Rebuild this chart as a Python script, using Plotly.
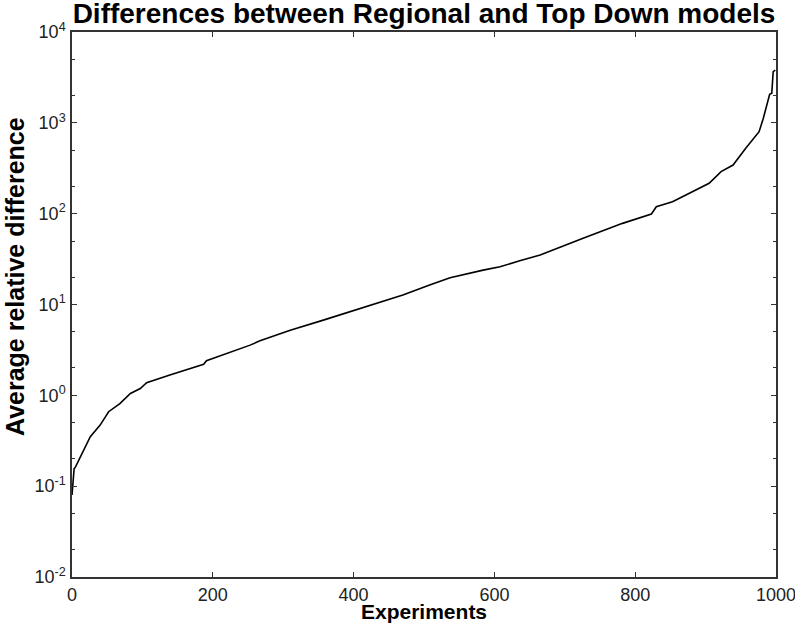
import plotly.graph_objects as go

# Sorted average relative difference per experiment (sampled along the curve)
experiment = [0, 1, 3, 5, 12, 19, 26, 40, 52, 68, 83, 97, 106, 139, 187, 191,
              220, 229, 253, 267, 281, 310, 357, 423, 470, 508, 537, 584, 608,
              636, 665, 726, 782, 823, 830, 853, 882, 905, 922, 939, 957, 969,
              976, 982, 987, 991, 994, 996, 999]
avg_rel_diff = [0.08, 0.10, 0.155, 0.163, 0.21, 0.28, 0.35, 0.47, 0.66, 0.81,
                1.05, 1.19, 1.38, 1.67, 2.2, 2.4, 2.89, 3.01, 3.57, 3.98, 4.34,
                5.22, 6.73, 9.84, 12.7, 16.4, 19.7, 23.9, 26.0, 30.3, 35.0,
                53.5, 78.2, 99.0, 119.0, 135.0, 174.0, 216.0, 290.0, 343.0,
                524.0, 676.0, 798.0, 1122.0, 1571.0, 2061.0, 2113.0, 3656.0,
                3800.0]

x_ticks = [0, 200, 400, 600, 800, 1000]
y_tick_exp = [-2, -1, 0, 1, 2, 3, 4]

FONT = "Liberation Sans, Arial, sans-serif"
W, H = 795, 625
M = dict(l=72, r=19, t=32, b=48)
PLOT_H = H - M["t"] - M["b"]

fig = go.Figure(go.Scatter(
    x=experiment, y=avg_rel_diff, mode="lines",
    line=dict(color="black", width=1.6),
    showlegend=False,
))

axis_common = dict(
    showline=True, linecolor="#333333", linewidth=1.5, mirror="allticks",
    ticks="inside", tickcolor="#333333", showgrid=False, zeroline=False,
    automargin=False, ticklabelstandoff=1, ticklabeloverflow="allow",
    tickfont=dict(family=FONT, size=18, color="#222222"),
)

fig.update_xaxes(range=[0, 1000], tickvals=x_ticks, ticklen=5, tickwidth=1,
                 **axis_common)
fig.update_yaxes(
    type="log", range=[-2, 4],
    tickvals=[10 ** e for e in y_tick_exp],
    ticktext=[f"10<sup>{e}</sup>" for e in y_tick_exp],
    ticklen=5, tickwidth=1,
    minor=dict(ticks="inside", ticklen=3, tickcolor="#333333", showgrid=False),
    **axis_common,
)

fig.add_annotation(
    text="<b>Experiments</b>", showarrow=False,
    xref="paper", x=0.5, xanchor="center",
    yref="paper", y=-M["b"] / PLOT_H, yanchor="bottom",
    font=dict(family=FONT, size=21, color="black"),
)
fig.add_annotation(
    text="<b>Average relative difference</b>", showarrow=False, textangle=-90,
    xref="paper", x=0, xanchor="center", xshift=-(M["l"] - 15),
    yref="paper", y=(H - M["b"] - 277) / PLOT_H, yanchor="middle",
    font=dict(family=FONT, size=25, color="black"),
)

fig.update_layout(
    width=W, height=H, margin=M,
    paper_bgcolor="white", plot_bgcolor="white",
    title=dict(text="<b>Differences between Regional and Top Down models</b>",
               font=dict(family=FONT, size=28, color="black"),
               x=0.5, xref="paper", xanchor="center",
               y=1.0, yref="container", yanchor="top", pad=dict(t=3)),
)

fig.write_html("out.html")
